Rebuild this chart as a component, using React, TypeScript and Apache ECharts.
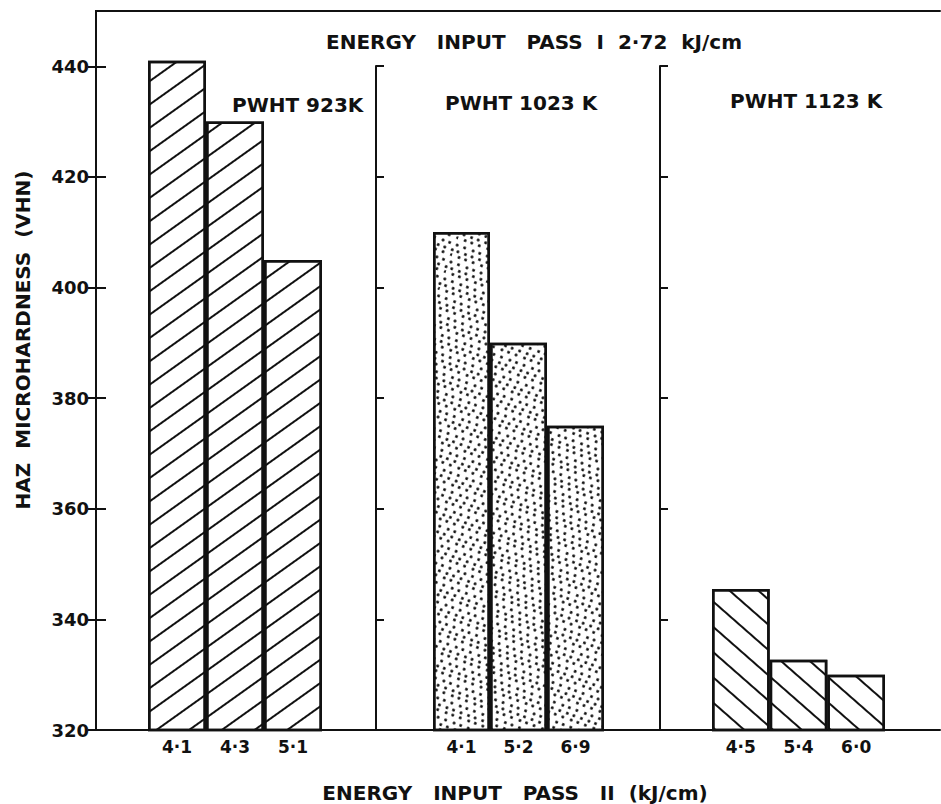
import React, { useEffect, useRef } from "react";
import * as echarts from "echarts";

const yTicks = [320, 340, 360, 380, 400, 420, 440];
const panelTitles = ["PWHT 923K", "PWHT 1023 K", "PWHT 1123 K"];
const pass2At923 = ["4·1", "4·3", "5·1"];
const hardness923 = [441, 430, 405];
const pass2At1023 = ["4·1", "5·2", "6·9"];
const hardness1023 = [410, 390, 375];
const pass2At1123 = ["4·5", "5·4", "6·0"];
const hardness1123 = [345.5, 332.7, 330];

const FONT = "'DejaVu Sans', sans-serif";
const INK = "#111";

export default function App() {
  const ref = useRef<HTMLDivElement>(null);
  useEffect(() => {
    if (!ref.current) return;
    const chart = echarts.init(ref.current, null, { renderer: "svg" });

    const frameX = (position: string) => ({
      gridIndex: 0,
      type: "value",
      min: 0,
      max: 1,
      position,
      axisLine: { show: true, lineStyle: { color: INK, width: 2 } },
      axisTick: { show: false },
      axisLabel: { show: false },
      splitLine: { show: false },
    });

    const catX = (gridIndex: number, data: string[]) => ({
      gridIndex,
      type: "category",
      data,
      axisLine: { show: false },
      axisTick: { show: false },
      splitLine: { show: false },
      axisLabel: {
        color: INK,
        fontFamily: FONT,
        fontSize: 17,
        fontWeight: "bold",
        margin: 8,
      },
    });

    const sepY = (gridIndex: number, offset: number) => ({
      gridIndex,
      type: "value",
      min: 320,
      max: 440,
      position: "left",
      offset,
      axisLine: { show: true, lineStyle: { color: INK, width: 2 } },
      axisTick: {
        show: true,
        inside: true,
        length: 8,
        customValues: yTicks,
        lineStyle: { color: INK, width: 2 },
      },
      axisLabel: { show: false },
      splitLine: { show: false },
    });

    const lineDecal = (rotation: number) => ({
      symbol: "rect",
      symbolSize: 1,
      color: INK,
      backgroundColor: "#fff",
      dashArrayX: [1, 0],
      dashArrayY: [2, 17],
      rotation,
    });

    const dotDecal = {
      symbol: "circle",
      symbolSize: 1,
      color: INK,
      backgroundColor: "#fff",
      dashArrayX: [
        [3, 5, 3, 6, 3, 4],
        [0, 3, 3, 5, 3, 4, 3, 2],
        [0, 6, 3, 4, 3, 5, 3, 0],
      ],
      dashArrayY: [3, 3, 3, 2, 3, 4],
      rotation: 0.35,
    };

    const barSeries = (idx: number, data: number[], decal: any) => ({
      type: "bar",
      xAxisIndex: idx,
      yAxisIndex: idx,
      data,
      barCategoryGap: "0%",
      itemStyle: {
        color: "#fff",
        borderColor: INK,
        borderWidth: 2.5,
        decal,
      },
    });

    const textEl = (text: string, x: number, y: number, size: number, extra: any = {}) => ({
      type: "text",
      x,
      y,
      ...extra,
      style: {
        text,
        fill: INK,
        font: `bold ${size}px ${FONT}`,
        textAlign: extra.align || "left",
        textVerticalAlign: "middle",
      },
    });

    chart.setOption({
      animation: false,
      backgroundColor: "#fff",
      grid: [
        { left: 96, width: 844, top: 11, height: 719 },
        { left: 148, width: 174, top: 11, height: 719 },
        { left: 433, width: 171, top: 66, height: 664 },
        { left: 712, width: 173, top: 66, height: 664 },
      ],
      xAxis: [
        frameX("bottom"),
        frameX("top"),
        catX(1, pass2At923),
        catX(2, pass2At1023),
        catX(3, pass2At1123),
      ],
      yAxis: [
        {
          gridIndex: 0,
          type: "value",
          min: 320,
          max: 450,
          position: "left",
          axisLine: { show: true, lineStyle: { color: INK, width: 2 } },
          axisTick: {
            show: true,
            inside: true,
            length: 10,
            customValues: yTicks,
            lineStyle: { color: INK, width: 2 },
          },
          axisLabel: {
            customValues: yTicks,
            color: INK,
            fontFamily: FONT,
            fontSize: 18,
            fontWeight: "bold",
            margin: 7,
          },
          splitLine: { show: false },
        },
        {
          gridIndex: 0,
          type: "value",
          min: 320,
          max: 450,
          position: "right",
          axisLine: { show: true, lineStyle: { color: INK, width: 2 } },
          axisTick: {
            show: true,
            inside: true,
            length: 8,
            customValues: yTicks,
            lineStyle: { color: INK, width: 2 },
          },
          axisLabel: { show: false },
          splitLine: { show: false },
        },
        {
          gridIndex: 1,
          type: "value",
          min: 320,
          max: 450,
          show: false,
          splitLine: { show: false },
        },
        sepY(2, 57),
        sepY(3, 52),
      ],
      series: [
        barSeries(2, hardness923, lineDecal(-0.62)),
        barSeries(3, hardness1023, dotDecal),
        barSeries(4, hardness1123, lineDecal(0.72)),
      ],
      graphic: [
        textEl("ENERGY   INPUT   PASS  I  2·72  kJ/cm", 534, 42, 20, { align: "center" }),
        textEl(panelTitles[0], 232, 105, 20),
        textEl(panelTitles[1], 445, 103, 20),
        textEl(panelTitles[2], 730, 101, 20),
        textEl("ENERGY   INPUT   PASS   II  (kJ/cm)", 515, 793, 20, { align: "center" }),
        textEl("HAZ  MICROHARDNESS  (VHN)", 23, 340, 20, { align: "center", rotation: Math.PI / 2 }),
      ],
    });
    return () => chart.dispose();
  }, []);

  return (
    <div
      ref={ref}
      style={{ position: "absolute", left: 0, top: 0, width: 941, height: 804, background: "#fff" }}
    />
  );
}
